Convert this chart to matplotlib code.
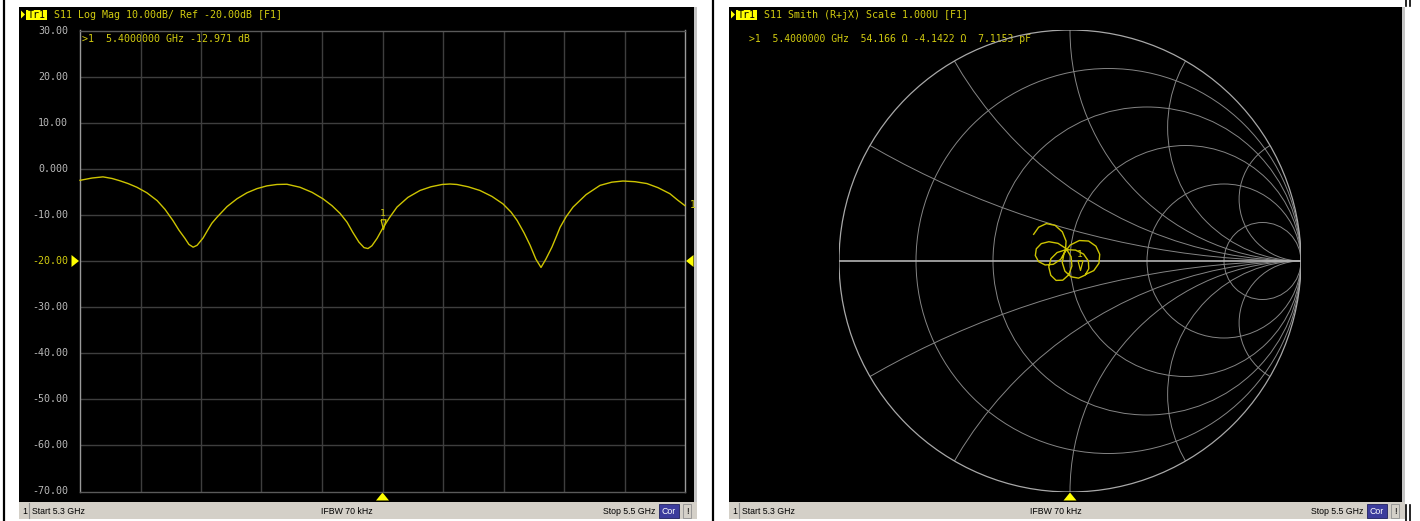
import numpy as np
import matplotlib
matplotlib.use("Agg")
import matplotlib.pyplot as plt
from matplotlib.patches import Rectangle, Circle, Polygon
from matplotlib.path import Path

# ---------------- data ----------------
freq_ghz = [5.3000, 5.3040, 5.3076, 5.3106, 5.3132, 5.3159, 5.3188, 5.3221, 5.3255,
            5.3281, 5.3307, 5.3327, 5.3347, 5.3360, 5.3374, 5.3387, 5.3407, 5.3423,
            5.3436, 5.3453, 5.3486, 5.3519, 5.3552, 5.3585, 5.3618, 5.3651, 5.3684,
            5.3727, 5.3767, 5.3803, 5.3833, 5.3860, 5.3883, 5.3902, 5.3922, 5.3939,
            5.3952, 5.3965, 5.3982, 5.4000, 5.4023, 5.4048, 5.4084, 5.4124, 5.4160,
            5.4197, 5.4223, 5.4246, 5.4283, 5.4322, 5.4362, 5.4398, 5.4425, 5.4445,
            5.4468, 5.4488, 5.4507, 5.4524, 5.4540, 5.4560, 5.4574, 5.4587, 5.4607,
            5.4630, 5.4673, 5.4719, 5.4758, 5.4795, 5.4835, 5.4874, 5.4911, 5.4950,
            5.4976, 5.5000]
s11_db = [-2.5, -2.0, -1.75, -2.1, -2.6, -3.2, -4.0, -5.2, -6.9,
          -8.8, -11.2, -13.3, -15.1, -16.4, -17.0, -16.6, -15.0, -13.2,
          -11.8, -10.5, -8.2, -6.5, -5.2, -4.3, -3.7, -3.4, -3.35,
          -4.0, -5.1, -6.5, -8.0, -9.7, -11.6, -13.8, -15.9, -17.1,
          -17.3, -16.7, -15.1, -12.97, -10.6, -8.3, -6.2, -4.7, -3.9,
          -3.4, -3.3, -3.4, -3.9, -4.7, -6.0, -7.6, -9.4, -11.2,
          -13.9, -16.6, -19.6, -21.4, -19.6, -17.0, -14.8, -12.7, -10.4,
          -8.3, -5.6, -3.6, -2.9, -2.65, -2.8, -3.2, -4.1, -5.4,
          -6.8, -8.0]

y_ticks = [30, 20, 10, 0, -10, -20, -30, -40, -50, -60, -70]
y_tick_labels = ["30.00", "20.00", "10.00", "0.000", "-10.00", "-20.00",
                 "-30.00", "-40.00", "-50.00", "-60.00", "-70.00"]
ref_level = -20
f_start, f_stop = 5.3, 5.5

# Smith chart trace (reflection coefficient)
smith_gamma_re = [-0.1573, -0.1359, -0.1020, -0.0644, -0.0332, -0.0170, -0.0198, -0.0403,
                  -0.0724, -0.1076, -0.1361, -0.1501, -0.1459, -0.1244, -0.0915, -0.0518,
                  -0.0166, 0.0048, 0.0082, -0.0056, -0.0313, -0.0603, -0.0831, -0.0919,
                  -0.0825, -0.0558, -0.0172, 0.0241, 0.0589, 0.0795, 0.0814, 0.0657,
                  0.0369, 0.0043, -0.0219, -0.0335, -0.0258, 0.0006, 0.0403, 0.0805,
                  0.1123, 0.1287, 0.1254, 0.1030, 0.0678]
smith_gamma_im = [0.1156, 0.1462, 0.1620, 0.1541, 0.1263, 0.0863, 0.0433, 0.0072,
                  -0.0143, -0.0172, -0.0026, 0.0237, 0.0528, 0.0752, 0.0835, 0.0765,
                  0.0534, 0.0186, -0.0215, -0.0600, -0.0830, -0.0840, -0.0620, -0.0260,
                  0.0101, 0.0367, 0.0491, 0.0472, 0.0299, 0.0001, -0.0335, -0.0610,
                  -0.0742, -0.0683, -0.0440, -0.0071, 0.0341, 0.0688, 0.0886, 0.0864,
                  0.0641, 0.0289, -0.0098, -0.0416, -0.0580]
smith_r_circles = [0.2, 0.5, 1.0, 2.0, 5.0]
smith_x_arcs = [0.268, 0.577, 1.0, 1.732, 3.732]

marker_freq = 5.4
marker_db = -12.971
marker_R = 54.166
marker_X = -4.1422
marker_C_pF = 7.1153
z0 = 50.0

# ---------------- styling ----------------
W, H = 1420, 521
YEL = "#d2cc10"
TRACE = "#cdc400"
BRIGHT = "#ffff00"
GRID = "#3e3e3e"
MONO = "DejaVu Sans Mono"
SANS = "Liberation Sans"
BAR = "#d4d0c8"

fig = plt.figure(figsize=(W / 100, H / 100), dpi=100)
fig.patch.set_facecolor("white")

bg = fig.add_axes([0, 0, 1, 1])
bg.set_xlim(0, W)
bg.set_ylim(H, 0)
bg.axis("off")


def fax(x0, y0, x1, y1):
    return [x0 / W, 1 - y1 / H, (x1 - x0) / W, (y1 - y0) / H]


def panel(x0, x1, title):
    bg.add_patch(Rectangle((x0, 7), x1 - x0, 495, fc="black", ec="none"))
    bg.add_patch(Rectangle((x1, 7), 3, 495, fc="#c4c4c4", ec="none"))
    bg.add_patch(Rectangle((x0, 502), x1 - x0 + 3, 17, fc=BAR, ec="none"))
    # Tr1 header
    bg.add_patch(Polygon([[x0 + 2, 10.5], [x0 + 2, 18.5], [x0 + 6, 14.5]], closed=True,
                         fc=BRIGHT, ec="none"))
    bg.add_patch(Rectangle((x0 + 7, 9.5), 21, 10, fc=BRIGHT, ec="none"))
    bg.text(x0 + 17.5, 14.8, "Tr1", color="black", fontsize=7.2, family=MONO,
            ha="center", va="center")
    bg.text(x0 + 35, 14.8, title, color=YEL, fontsize=7.2, family=MONO,
            ha="left", va="center")
    # status bar
    bg.text(x0 + 3, 511, "1", color="black", fontsize=6.3, family=SANS, va="center")
    bg.plot([x0 + 10, x0 + 10], [503, 518], color="#909090", lw=0.8)
    bg.text(x0 + 13, 511, "Start 5.3 GHz", color="black", fontsize=6.3, family=SANS,
            va="center")
    bg.text((x0 + x1) / 2 - 10, 511, "IFBW 70 kHz", color="black", fontsize=6.3,
            family=SANS, va="center", ha="center")
    bg.text(x1 - 39, 511, "Stop 5.5 GHz", color="black", fontsize=6.3, family=SANS,
            va="center", ha="right")
    bg.add_patch(Rectangle((x1 - 35, 503.5), 20, 14, fc="#3c3c9c", ec="#202060", lw=0.6))
    bg.text(x1 - 25, 511, "Cor", color="white", fontsize=6.3, family=SANS,
            va="center", ha="center")
    bg.add_patch(Rectangle((x1 - 11, 503.5), 8, 14, fc=BAR, ec="#909090", lw=0.6))
    bg.text(x1 - 7, 511, "!", color="black", fontsize=6.3, family=SANS,
            va="center", ha="center")


panel(19, 694, "S11 Log Mag 10.00dB/ Ref -20.00dB [F1]")
panel(729, 1402, "S11 Smith (R+jX) Scale 1.000U [F1]")

# side lines
bg.plot([3.5, 3.5], [0, H], color="black", lw=1.6)
bg.plot([713, 713], [0, H], color="black", lw=1.6)
for xx in (1405.5, 1409.5):
    bg.plot([xx, xx], [0, 6], color="black", lw=1.2)
    bg.plot([xx, xx], [505, H], color="black", lw=1.2)

# ---------------- Log Mag ----------------
PX0, PX1, PY0, PY1 = 80, 685, 30.5, 491.5
ax = fig.add_axes(fax(PX0, PY0, PX1, PY1))
ax.set_facecolor("none")
ax.set_xlim(f_start, f_stop)
ax.set_ylim(y_ticks[-1], y_ticks[0])
ax.set_xticks([])
ax.set_yticks([])
for f in np.linspace(f_start, f_stop, 11)[1:-1]:
    ax.axvline(f, color=GRID, lw=1.0, zorder=1)
for yv in y_ticks[1:-1]:
    ax.axhline(yv, color=GRID, lw=1.0, zorder=1)
for s in ("left", "right"):
    ax.spines[s].set_color("#9a9a9a")
    ax.spines[s].set_linewidth(1.0)
for s in ("top", "bottom"):
    ax.spines[s].set_color("#5a5a5a")
    ax.spines[s].set_linewidth(1.0)

ax.plot(freq_ghz, s11_db, color=TRACE, lw=1.0, zorder=3, clip_on=False,
        solid_joinstyle="round", antialiased=True)

tri_down = Path([(-0.36, 1.4), (0.36, 1.4), (0.0, 0.0), (-0.36, 1.4)])
ax.plot([marker_freq], [marker_db], marker=tri_down, ms=14, mfc="none", mec=TRACE,
        mew=0.9, ls="none", zorder=4)
ax.annotate("1", (marker_freq, marker_db), xytext=(0, 11), textcoords="offset points",
            ha="center", va="center", color=YEL, fontsize=6.8, family=MONO)
ax.annotate("1", (freq_ghz[-1], s11_db[-1]), xytext=(3.5, 0.5), textcoords="offset points",
            ha="left", va="center", color=YEL, fontsize=7, family=MONO,
            annotation_clip=False)

# y labels (pixel positions from data scale)
for v, lab in zip(y_ticks, y_tick_labels):
    ypx = PY0 + (y_ticks[0] - v) / (y_ticks[0] - y_ticks[-1]) * (PY1 - PY0)
    bg.text(68, ypx, lab, color=(YEL if v == ref_level else "#b8b8b8"),
            fontsize=7.2, family=MONO, ha="right", va="center")
ref_px = PY0 + (y_ticks[0] - ref_level) / (y_ticks[0] - y_ticks[-1]) * (PY1 - PY0)
bg.add_patch(Polygon([[71.5, ref_px - 6], [71.5, ref_px + 6], [79, ref_px]], closed=True,
                     fc=BRIGHT, ec="none"))
bg.add_patch(Polygon([[693.5, ref_px - 6], [693.5, ref_px + 6], [686, ref_px]], closed=True,
                     fc=BRIGHT, ec="none"))
mx_px = PX0 + (marker_freq - f_start) / (f_stop - f_start) * (PX1 - PX0)
bg.add_patch(Polygon([[mx_px - 6.5, 500.5], [mx_px + 6.5, 500.5], [mx_px, 492.5]],
                     closed=True, fc=BRIGHT, ec="none"))

bg.text(82, 39.5, ">1  %.7f GHz %.3f dB" % (marker_freq, marker_db), color=YEL,
        fontsize=7.2, family=MONO, ha="left", va="center")

# ---------------- Smith ----------------
CX, CY, RAD = 1070, 261, 231
sx = fig.add_axes(fax(CX - RAD, CY - RAD, CX + RAD, CY + RAD))
sx.set_facecolor("none")
sx.set_xlim(-1, 1)
sx.set_ylim(-1, 1)
sx.axis("off")
SG = "#858585"
unit = Circle((0, 0), 1, fill=False, ec="#a8a8a8", lw=0.9, zorder=2)
sx.add_patch(unit)
for r in smith_r_circles:
    sx.add_patch(Circle((r / (1 + r), 0), 1 / (1 + r), fill=False, ec=SG, lw=0.7, zorder=1))
for xv in smith_x_arcs:
    for sgn in (1, -1):
        c = Circle((1, sgn / xv), 1 / xv, fill=False, ec=SG, lw=0.7, zorder=1)
        sx.add_patch(c)
        c.set_clip_path(unit)
sx.plot([-1, 1], [0, 0], color="#b4b4b4", lw=1.2, zorder=2)

sx.plot(smith_gamma_re, smith_gamma_im, color=TRACE, lw=1.0, zorder=3,
        solid_joinstyle="round")

zm = complex(marker_R, marker_X) / z0
gm = (zm - 1) / (zm + 1)
sx.plot([gm.real], [gm.imag], marker=tri_down, ms=14, mfc="none", mec=TRACE, mew=0.9,
        ls="none", zorder=4)
sx.annotate("1", (gm.real, gm.imag), xytext=(0, 11), textcoords="offset points",
            ha="center", va="center", color=YEL, fontsize=6.8, family=MONO)

bg.add_patch(Polygon([[CX - 6.5, 500.5], [CX + 6.5, 500.5], [CX, 492.5]],
                     closed=True, fc=BRIGHT, ec="none"))
bg.text(749, 39.5, ">1  %.7f GHz  %.3f \u03a9 %.4f \u03a9  %.4f pF"
        % (marker_freq, marker_R, marker_X, marker_C_pF),
        color=YEL, fontsize=7.0, family=MONO, ha="left", va="center")

fig.savefig("out.png", dpi=100, facecolor="white")
